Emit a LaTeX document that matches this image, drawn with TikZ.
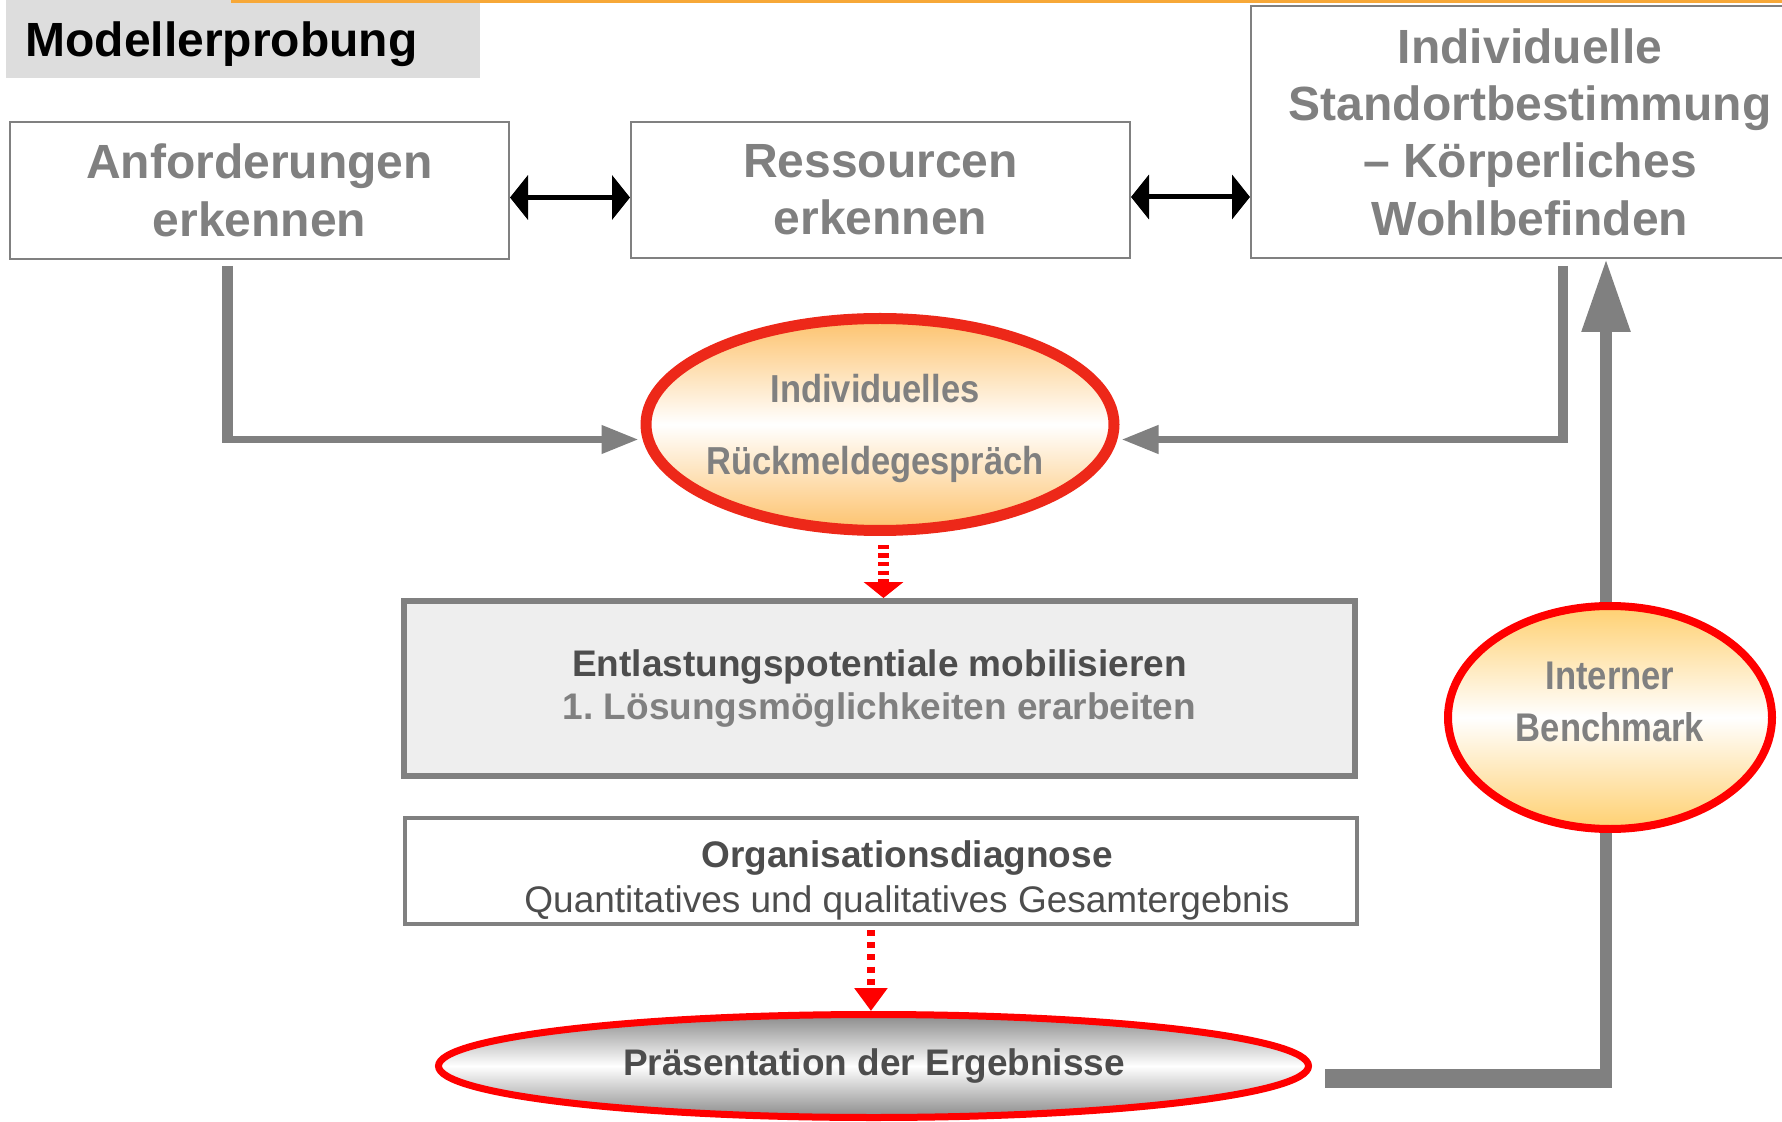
\documentclass[tikz,border=0pt]{standalone}
\usepackage{fontspec}
\setmainfont{Liberation Sans}
\newfontfamily\narrowA[FakeStretch=0.885]{Liberation Sans}
\newfontfamily\narrowB[FakeStretch=0.865]{Liberation Sans}
\usetikzlibrary{shapes.geometric,arrows.meta}
\frenchspacing
\definecolor{txtgrey}{RGB}{128,128,128}
\definecolor{darkgrey}{RGB}{77,77,77}
\definecolor{linegrey}{RGB}{128,128,128}
\definecolor{titlebg}{RGB}{221,221,221}
\definecolor{orangeline}{RGB}{247,168,56}
\definecolor{boxfill}{RGB}{238,238,238}
\definecolor{redA}{RGB}{237,40,25}
\definecolor{redB}{RGB}{255,0,0}
\definecolor{orangefill}{RGB}{253,194,108}
\definecolor{yellowfill}{RGB}{255,208,112}
\definecolor{greyfill}{RGB}{138,138,138}
\tikzset{
  topbox/.style={draw=linegrey, line width=1pt, fill=white, inner sep=0pt, align=center,
    text=txtgrey, font=\fontsize{24pt}{28.7pt}\selectfont\bfseries},
  blkarrow/.style={draw=black, line width=2.5pt,
    {Triangle[length=9pt,width=22pt]}-{Triangle[length=9pt,width=22pt]}},
  greyv/.style={draw=linegrey, line width=5.5pt},
  greyh/.style={draw=linegrey, line width=3.65pt, -{Triangle[length=18.5pt,width=13.5pt]}},
  thickbar/.style={draw=linegrey, line width=9.5pt},
  thickv/.style={draw=linegrey, line width=6pt},
  reddashA/.style={draw=redB, line width=5.5pt, dash pattern=on 2.15pt off 2.1pt,
    -{Triangle[length=8pt,width=19.5pt]}},
  reddashB/.style={draw=redB, line width=4pt, dash pattern=on 3pt off 3.1pt,
    -{Triangle[length=11.5pt,width=16pt]}},
  ellbase/.style={ellipse, inner sep=0pt},
}
\begin{document}
\begin{tikzpicture}[x=0.5pt,y=-0.5pt]
\useasboundingbox (0,0) rectangle (1782,1122);

% title
\node[fill=titlebg, minimum width=237pt, minimum height=39pt, inner sep=0pt] (titlebox) at (243,39) {};
\node[anchor=base west, inner sep=0pt, font=\fontsize{24pt}{28pt}\selectfont\bfseries, text=black] (title) at (25,57) {Modellerprobung};
\draw[orangeline, line width=1.5pt] (231,1.5) -- (1782,1.5);

% top boxes
\node[topbox, minimum width=249.5pt, minimum height=68.5pt] (A) at (259.5,190.5) {Anforderungen\\erkennen};
\node[topbox, minimum width=249.5pt, minimum height=68pt] (R) at (880.5,190) {Ressourcen\\erkennen};
\node[topbox, minimum width=279pt, minimum height=126pt] (I) at (1530,132) {Individuelle\\Standortbestimmung\\– Körperliches\\Wohlbefinden};

% black double arrows
\coordinate (aR) at ([yshift=-3.5pt]A.east);
\draw[blkarrow] (aR) -- (aR -| R.west);
\coordinate (rI) at ([yshift=-3.5pt]R.east);
\draw[blkarrow] (rI) -- (rI -| I.west);

% ellipse Rueckmeldegespraech
\node[ellbase, draw=redA, line width=5.5pt, top color=orangefill, bottom color=orangefill, middle color=white,
  minimum width=234pt, minimum height=106pt] (e1) at (880,424.5) {};
\node[align=center, inner sep=0pt, text=txtgrey, font=\fontsize{19.5pt}{36pt}\selectfont\narrowA\bfseries] (e1t) at (875,429) {Individuelles\\Rückmeldegespräch};

% grey connectors to ellipse
\coordinate (la) at (227.5,266);
\coordinate (lb) at (227.5,443);
\draw[greyv] (la) -- (lb);
\coordinate (lc) at (222,439.5);
\draw[greyh, shorten >=1pt] (lc) -- (lc -| e1.west);
\coordinate (ra) at (1563,266);
\coordinate (rb) at (1563,443);
\draw[greyv, line width=5pt] (ra) -- (rb);
\coordinate (rc) at (1568,439.5);
\draw[greyh, shorten >=1pt] (rc) -- (rc -| e1.east);

% Entlastung box
\node[draw=linegrey, line width=3pt, fill=boxfill, minimum width=475.5pt, minimum height=87.5pt, inner sep=0pt,
  align=center, text=darkgrey, font=\fontsize{18.5pt}{21.5pt}\selectfont\bfseries] (ent) at (879.5,688.5)
  {Entlastungspotentiale mobilisieren\\{\color{txtgrey}1. Lösungsmöglichkeiten erarbeiten}};

% dashed arrow 1
\coordinate (d1s) at ([xshift=1.75pt]e1.south);
\draw[reddashA, shorten <=4.5pt] (d1s) -- (d1s |- ent.north);

% Organisationsdiagnose
\node[draw=linegrey, line width=2pt, fill=white, minimum width=476.25pt, minimum height=53pt, inner sep=0pt] (org) at (880.75,871) {};
\node[align=center, inner sep=0pt, text=darkgrey, font=\fontsize{18.5pt}{22.5pt}\selectfont] (orgt) at (907,880)
  {\textbf{Organisationsdiagnose}\\Quantitatives und qualitatives Gesamtergebnis};

% Praesentation ellipse
\node[ellbase, draw=redB, line width=3.5pt, top color=greyfill, bottom color=greyfill, middle color=white,
  minimum width=435pt, minimum height=51.5pt] (p) at (873.5,1066) {};
\node[inner sep=0pt, text=darkgrey, font=\fontsize{18.5pt}{22pt}\selectfont\bfseries] (pt) at (874,1066) {Präsentation der Ergebnisse};

% dashed arrow 2
\coordinate (d2s) at ([xshift=-4.9pt]org.south);
\draw[reddashB, shorten <=2pt] (d2s) -- (d2s |- p.north);

% Interner Benchmark ellipse
\coordinate (pb1) at (1325,1078.5);
\coordinate (pb2) at (1612,1078.5);
\draw[thickbar] (pb1) -- (pb2);
\coordinate (pv) at (1606,1088);
\node[ellbase, draw=redB, line width=4pt, top color=yellowfill, bottom color=yellowfill, middle color=white,
  minimum width=162pt, minimum height=111.5pt] (ib) at (1610,717.5) {};
\draw[thickv] (pv) -- (pv |- ib.south);
\draw[thickv, -{Triangle[length=36.5pt,width=23pt]}] (ib.north -| pv) -- (pv |- I.south);
\node[align=center, inner sep=0pt, text=txtgrey, font=\fontsize{20pt}{26pt}\selectfont\narrowB\bfseries] (ibt) at (1610,701.7) {Interner\\Benchmark};
\end{tikzpicture}
\end{document}
